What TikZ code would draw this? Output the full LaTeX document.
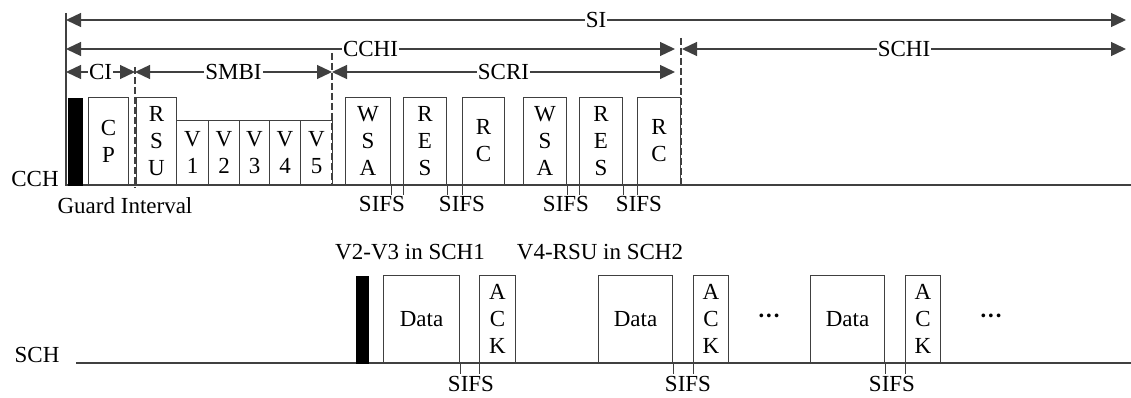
\documentclass[tikz,border=0pt]{standalone}
\usepackage{fontspec}
\setmainfont{Liberation Serif}
\usetikzlibrary{arrows.meta}
\definecolor{ln}{RGB}{64,64,64}
\begin{document}
\begin{tikzpicture}[x=1pt,y=-1pt,
  every node/.style={font=\fontsize{23}{27}\selectfont, inner sep=0pt},
  box/.style={draw=ln, line width=1pt, anchor=south west, align=center},
  dim/.style={draw=ln, line width=1.3pt, {Triangle[length=15pt,width=14pt]}-{Triangle[length=15pt,width=14pt]}},
  lab/.style={fill=white, inner xsep=1pt, inner ysep=0pt},
  guide/.style={draw=ln, line width=1.2pt, dash pattern=on 7pt off 3pt},
  base/.style={draw=ln, line width=1.3pt},
  tick/.style={draw=ln, line width=1pt}]
\useasboundingbox (0,0) rectangle (1131,398);
% ---------- coordinates ----------
\coordinate (Lt) at (66,13); \coordinate (Lb) at (66,185);
\coordinate (Re) at (1131,185);
\coordinate (d1t) at (135,67); \coordinate (d1b) at (135,188);
\coordinate (d2t) at (332,53); \coordinate (d2b) at (332,185);
\coordinate (d3t) at (681,38); \coordinate (d3b) at (681,185);
\coordinate (siL) at (66,20); \coordinate (siR) at (1126,20);
\coordinate (ccL) at (66,49); \coordinate (ccR) at (675,49);
\coordinate (scL) at (682,49); \coordinate (scR) at (1126,49);
\coordinate (ciL) at (66,72); \coordinate (ciR) at (135,72);
\coordinate (smR) at (332,72);
\coordinate (srR) at (675,72);
\coordinate (bL) at (76,363); \coordinate (bR) at (1131,363);
% ---------- CCH frame ----------
\draw[base] (Lt) -- (Lb) -- (Re);
\draw[guide] (d1t) -- (d1b);
\draw[guide] (d2t) -- (d2b);
\draw[guide] (d3t) -- (d3b);
% ---------- dimension arrows ----------
\draw[dim] (siL) -- (siR) node[midway,lab] (si) {SI};
\draw[dim] (ccL) -- (ccR) node[midway,lab] (cchi) {CCHI};
\draw[dim] (scL) -- (scR) node[midway,lab] (schi) {SCHI};
\draw[dim] (ciL) -- (ciR) node[midway,lab] (ci) {CI};
\draw[dim] (ciR) -- (smR) node[midway,lab] (smbi) {SMBI};
\draw[dim] (smR) -- (srR) node[midway,lab] (scri) {SCRI};
% ---------- CCH boxes ----------
\node[fill=black, draw=black, minimum width=14pt, minimum height=87pt, anchor=south west] (g1) at (68,185) {};
\node[box, minimum width=40pt, minimum height=87pt] (cp) at (88,185) {C\\P};
\node[box, minimum width=40pt, minimum height=87pt] (rsu) at (136,185) {R\\S\\U};
\node[box, minimum width=32pt, minimum height=64pt] (v1) at (176,185) {V\\1};
\node[box, minimum width=31pt, minimum height=64pt] (v2) at (208,185) {V\\2};
\node[box, minimum width=30pt, minimum height=64pt] (v3) at (239,185) {V\\3};
\node[box, minimum width=31pt, minimum height=64pt] (v4) at (269,185) {V\\4};
\node[box, minimum width=32pt, minimum height=64pt] (v5) at (300,185) {V\\5};
\node[box, minimum width=45pt, minimum height=87pt] (wsa1) at (345,185) {W\\S\\A};
\node[box, minimum width=43pt, minimum height=87pt] (res1) at (403,185) {R\\E\\S};
\node[box, minimum width=42pt, minimum height=87pt] (rc1) at (462,185) {R\\C};
\node[box, minimum width=43pt, minimum height=87pt] (wsa2) at (523,185) {W\\S\\A};
\node[box, minimum width=43pt, minimum height=87pt] (res2) at (579,185) {R\\E\\S};
\node[box, minimum width=43pt, minimum height=87pt] (rc2) at (637,185) {R\\C};
% SIFS ticks (CCH)
\draw[tick] (wsa1.south east) -- ++(0,10);
\draw[tick] (res1.south west) -- ++(0,10);
\draw[tick] (res1.south east) -- ++(0,10);
\draw[tick] (rc1.south west) -- ++(0,10);
\draw[tick] (wsa2.south east) -- ++(0,10);
\draw[tick] (res2.south west) -- ++(0,10);
\draw[tick] (res2.south east) -- ++(0,10);
\draw[tick] (rc2.south west) -- ++(0,10);
\node (s1) at (382,204) {SIFS};
\node (s2) at (462,204) {SIFS};
\node (s3) at (566,204) {SIFS};
\node (s4) at (639,204) {SIFS};
\node (cch) at (35,179) {CCH};
\node (gi) at (125,206) {Guard Interval};
% ---------- SCH ----------
\draw[base] (bL) -- (bR);
\node (sch) at (37,355) {SCH};
\node (t1) at (410,252) {V2-V3 in SCH1};
\node (t2) at (600,252) {V4-RSU in SCH2};
\node[fill=black, draw=black, minimum width=12pt, minimum height=87pt, anchor=south west] (g2) at (356,363) {};
\node[box, minimum width=76pt, minimum height=87pt] (data1) at (383,363) {Data};
\node[box, minimum width=36pt, minimum height=87pt] (ack1) at (479,363) {A\\C\\K};
\node[box, minimum width=74pt, minimum height=87pt] (data2) at (598,363) {Data};
\node[box, minimum width=35pt, minimum height=87pt] (ack2) at (693,363) {A\\C\\K};
\node[box, minimum width=74pt, minimum height=87pt] (data3) at (810,363) {Data};
\node[box, minimum width=35pt, minimum height=87pt] (ack3) at (905,363) {A\\C\\K};
\node (dots1) at (769,319) {\textbf{···}};
\node (dots2) at (991,319) {\textbf{···}};
\draw[tick] (data1.south east) -- ++(0,11);
\draw[tick] (ack1.south west) -- ++(0,11);
\draw[tick] (data2.south east) -- ++(0,11);
\draw[tick] (ack2.south west) -- ++(0,11);
\draw[tick] (data3.south east) -- ++(0,11);
\draw[tick] (ack3.south west) -- ++(0,11);
\node (s5) at (471,384) {SIFS};
\node (s6) at (688,384) {SIFS};
\node (s7) at (892,384) {SIFS};
\end{tikzpicture}
\end{document}
